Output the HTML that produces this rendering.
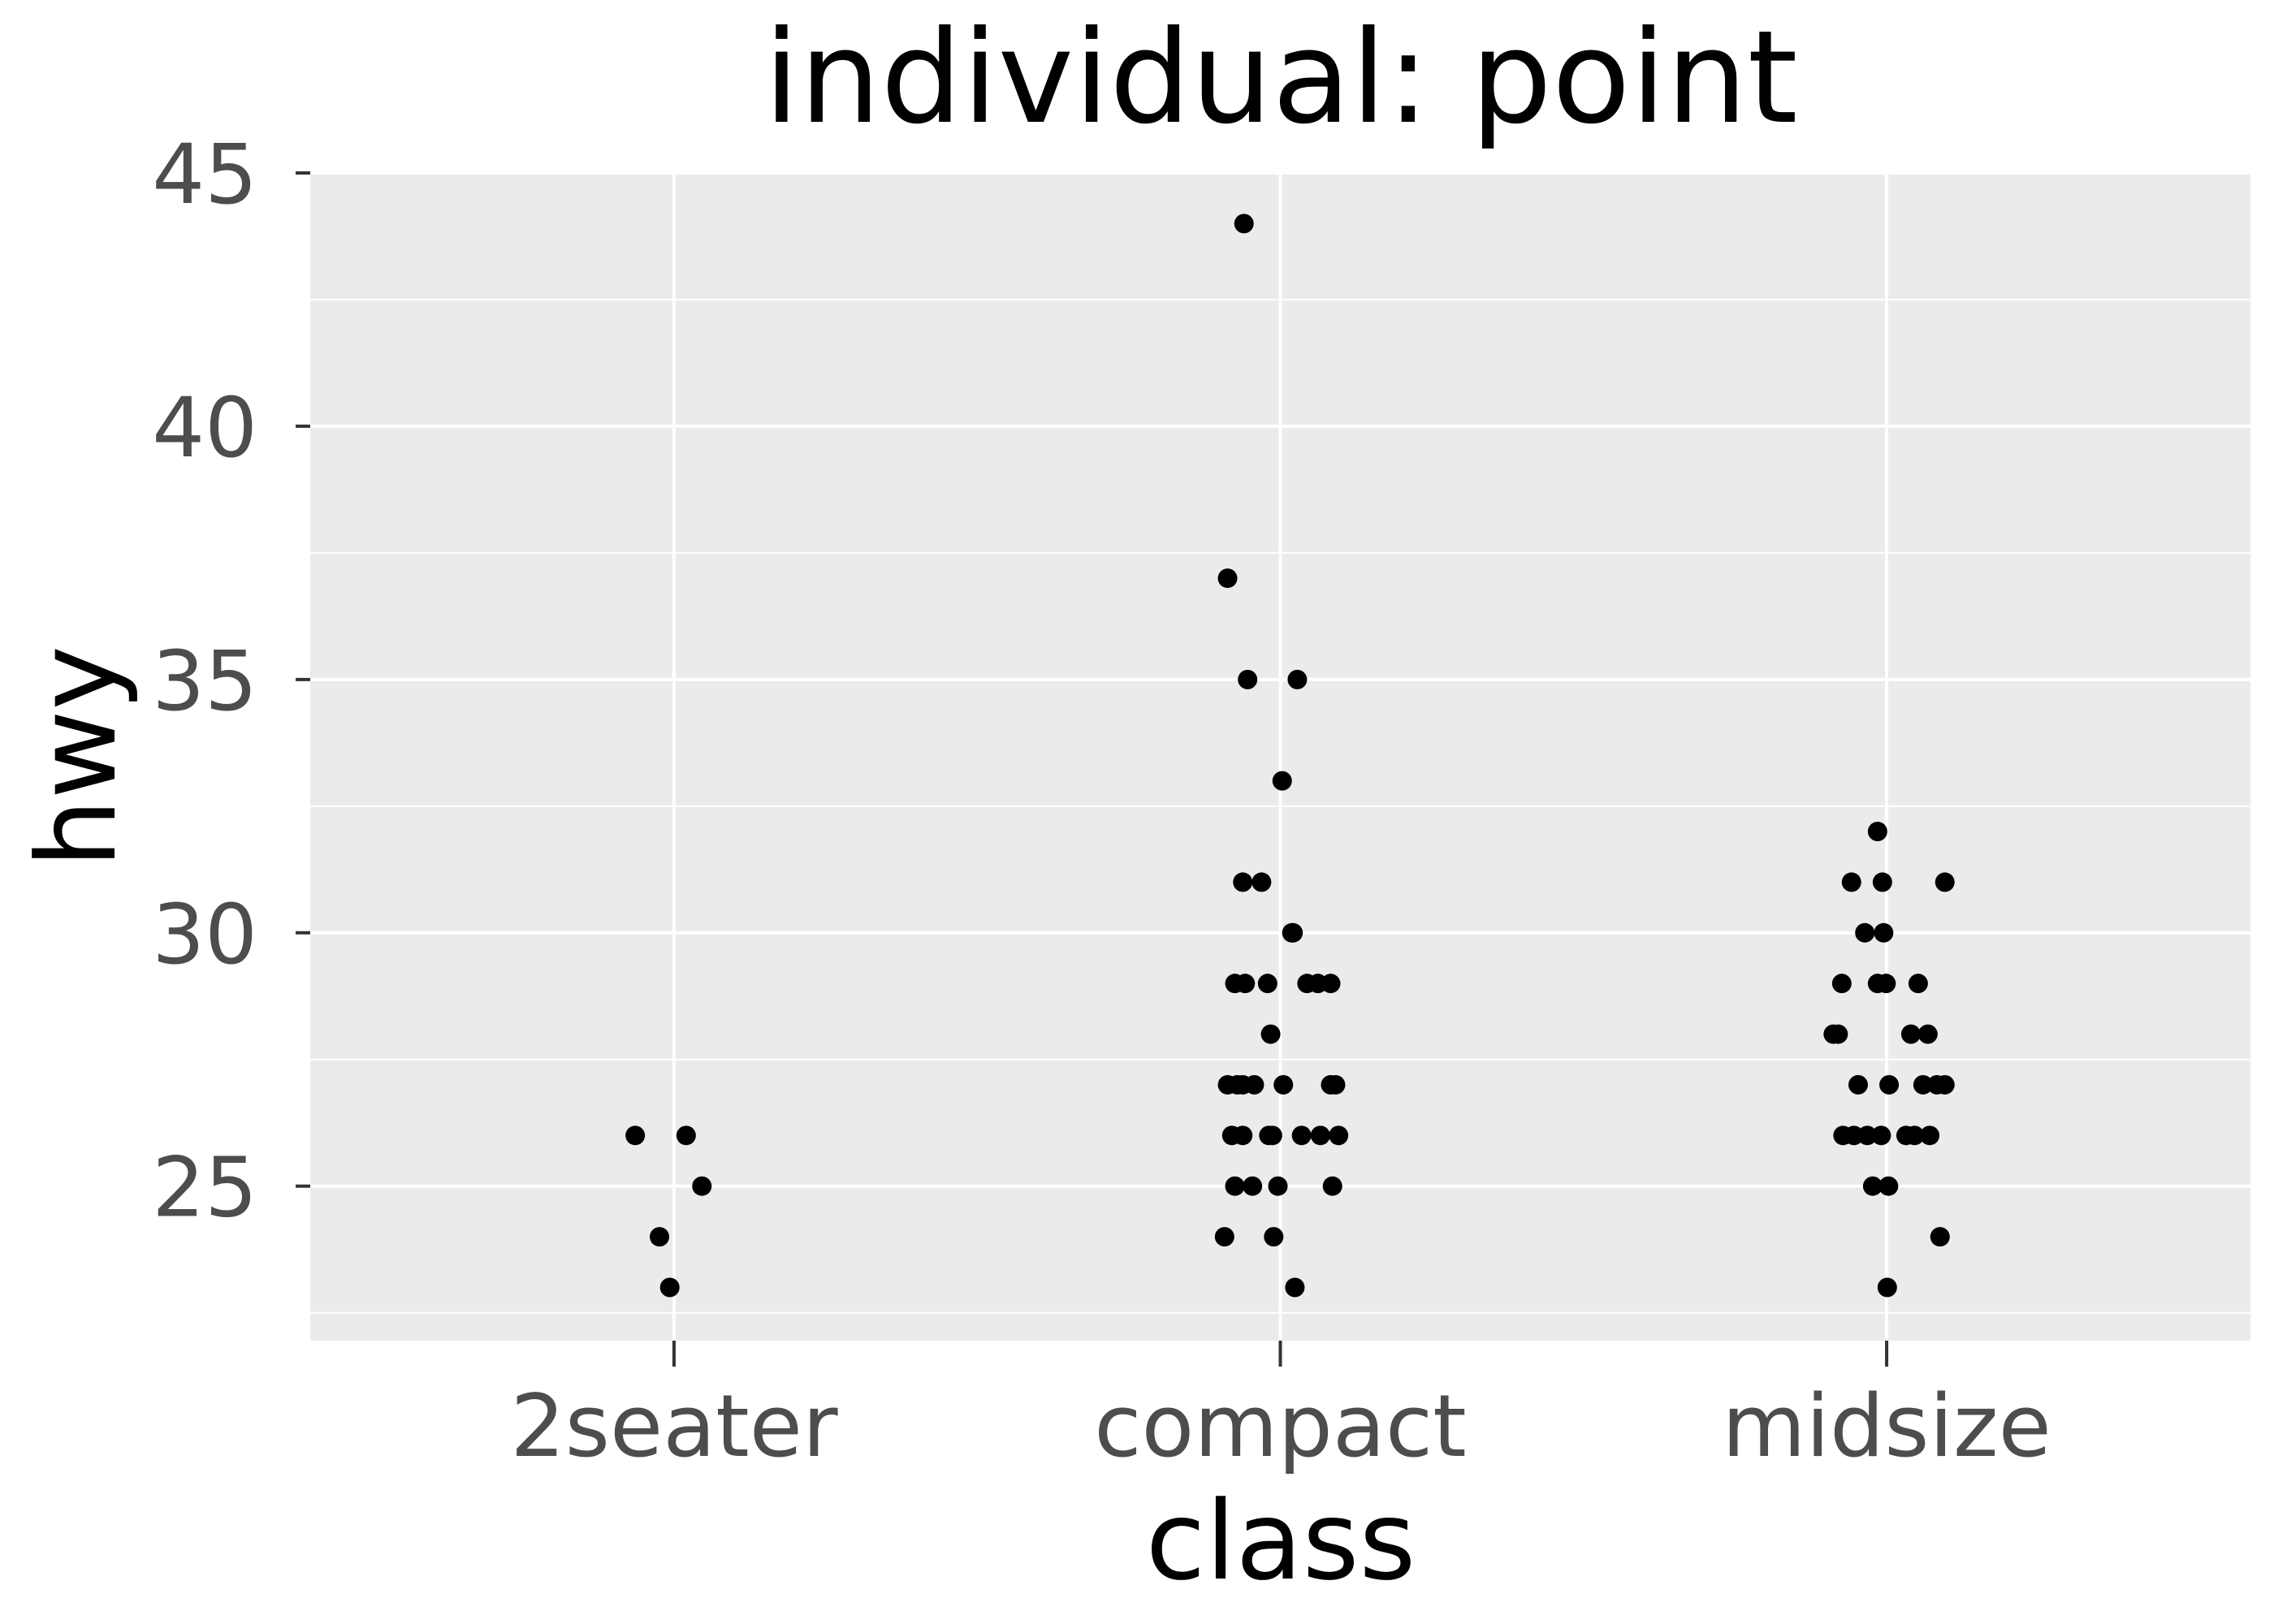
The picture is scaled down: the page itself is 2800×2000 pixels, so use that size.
<!DOCTYPE html>
<html><head><meta charset="utf-8"><style>
html,body{margin:0;padding:0;background:#fff;}
svg{display:block;font-family:"DejaVu Sans","Liberation Sans",sans-serif;}
</style></head><body>
<svg id="chart" width="2800" height="2000" viewBox="0 0 2800 2000" xmlns="http://www.w3.org/2000/svg">
<rect x="0" y="0" width="2800" height="2000" fill="#ffffff"/>
<rect x="382" y="213" width="2389" height="1438" fill="#ebebeb"/>
<g id="grid"></g>
<g id="axes"></g>
<g id="points"></g>
<text x="1577" y="150" text-anchor="middle" font-size="158" fill="#000">individual: point</text>
<text x="1577" y="1944" text-anchor="middle" font-size="134" fill="#000">class</text>
<text transform="translate(141,932) rotate(-90)" x="0" y="0" text-anchor="middle" font-size="134" fill="#000">hwy</text>
</svg>
<script>
const categories = ["2seater", "compact", "midsize"];
const yTicks = [25, 30, 35, 40, 45];
const yMinor = [22.5, 27.5, 32.5, 37.5, 42.5];
const twoSeaterHwy = [26, 26, 25, 24, 23];
const twoSeaterJitter = [-0.064, 0.02, 0.046, -0.024, -0.007];
const compactHwy = [44, 37, 35, 35, 33, 31, 31, 30, 30, 29, 29, 29, 29, 29, 29, 28, 27, 27, 27, 27, 27, 27, 27, 26, 26, 26, 26, 26, 26, 26, 25, 25, 25, 25, 24, 24, 23];
const compactJitter = [-0.06, -0.087, -0.054, 0.028, 0.003, -0.062, -0.031, 0.019, 0.021, -0.075, -0.058, -0.021, 0.044, 0.062, 0.083, -0.016, -0.087, -0.071, -0.062, -0.043, 0.005, 0.083, 0.091, -0.08, -0.062, -0.019, -0.013, 0.035, 0.066, 0.096, -0.075, -0.046, -0.004, 0.086, -0.092, -0.011, 0.024];
const midsizeHwy = [32, 31, 31, 31, 30, 30, 29, 29, 29, 29, 28, 28, 28, 28, 27, 27, 27, 27, 27, 26, 26, 26, 26, 26, 26, 26, 25, 25, 24, 23];
const midsizeJitter = [-0.015, -0.058, -0.007, 0.096, -0.036, -0.005, -0.074, -0.015, -0.001, 0.052, -0.088, -0.08, 0.04, 0.068, -0.047, 0.004, 0.06, 0.083, 0.096, -0.072, -0.054, -0.032, -0.009, 0.032, 0.046, 0.071, -0.023, 0.003, 0.088, 0.001];

const NS = "http://www.w3.org/2000/svg";
const PL = 382, PR = 2771, PT = 213, PB = 1651;
const xDom = [0.4, 3.6], yDom = [21.95, 45.0];
function xScale(v){ return PL + (v - xDom[0]) / (xDom[1] - xDom[0]) * (PR - PL); }
function yScale(v){ return PB - (v - yDom[0]) / (yDom[1] - yDom[0]) * (PB - PT); }
function mk(tag, attrs, parent){ const e = document.createElementNS(NS, tag); for (const k in attrs) e.setAttribute(k, attrs[k]); parent.appendChild(e); return e; }

const grid = document.getElementById("grid");
const axes = document.getElementById("axes");
const pts = document.getElementById("points");

yMinor.forEach(v => {
  const l = mk("line", {x1: PL, x2: PR, y1: yScale(v), y2: yScale(v), stroke: "#fff", "stroke-width": 2}, grid);
  
  
});
yTicks.forEach(v => {
  const y = yScale(v);
  const l = mk("line", {x1: PL, x2: PR, y1: y, y2: y, stroke: "#fff", "stroke-width": 4}, grid);
  
  
  const t = mk("line", {x1: PL - 18, x2: PL, y1: y, y2: y, stroke: "#333", "stroke-width": 4}, axes);
  
  
  const tx = mk("text", {x: 317, y: y + 37, "text-anchor": "end", "font-size": 102, fill: "#4d4d4d"}, axes);
  tx.textContent = v;
  
  
});
categories.forEach((c, i) => {
  const x = xScale(i + 1);
  const l = mk("line", {x1: x, x2: x, y1: PT, y2: PB, stroke: "#fff", "stroke-width": 4}, grid);
  
  
  const t = mk("line", {x1: x, x2: x, y1: PB, y2: PB + 32, stroke: "#333", "stroke-width": 4}, axes);
  
  
  const tx = mk("text", {x: x, y: 1793, "text-anchor": "middle", "font-size": 106, fill: "#4d4d4d"}, axes);
  tx.textContent = c;
  
  
});

const series = [[twoSeaterHwy, twoSeaterJitter], [compactHwy, compactJitter], [midsizeHwy, midsizeJitter]];
series.forEach((s, i) => {
  s[0].forEach((v, j) => {
    const c = mk("circle", {cx: xScale(i + 1 + s[1][j]), cy: yScale(v), r: 12, fill: "#000"}, pts);
    
    
  });
});
</script>
</body></html>
